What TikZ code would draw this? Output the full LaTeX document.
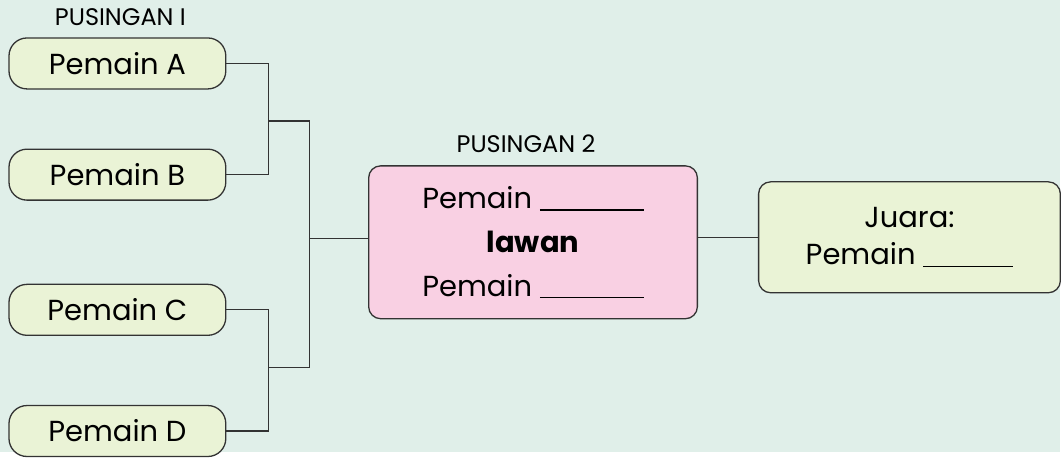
\documentclass[tikz,border=0pt]{standalone}
\usepackage{fontspec}
\setmainfont{Poppins}
\usetikzlibrary{positioning}
\definecolor{mintbg}{HTML}{E0EFE9}
\definecolor{playerfill}{HTML}{EAF3D6}
\definecolor{matchfill}{HTML}{F9D0E3}
\definecolor{edgegray}{HTML}{333333}
\newcommand{\blankline}[1]{\rule[-1.2pt]{#1}{0.7pt}}

\begin{document}
\begin{tikzpicture}[
  playerBox/.style={draw=edgegray, line width=0.65pt, fill=playerfill, minimum width=108.5pt, minimum height=25.5pt, rounded corners=9pt, inner sep=0pt, font=\fontsize{14.5}{18}\selectfont},
  matchBox/.style={draw=edgegray, line width=0.65pt, fill=matchfill, minimum width=164.5pt, minimum height=76.5pt, rounded corners=6pt, align=center, font=\fontsize{14.5}{22}\selectfont},
  winnerBox/.style={draw=edgegray, line width=0.65pt, fill=playerfill, minimum width=151pt, minimum height=55.5pt, rounded corners=6pt, align=center, font=\fontsize{14.5}{18.5}\selectfont},
  roundLabel/.style={inner sep=0pt, font=\fontsize{12}{14}\selectfont},
  link/.style={draw=edgegray, line width=0.65pt}
]
\fill[mintbg] (0,0) rectangle (530.5pt,-226pt);

% Pusingan 1
\node[playerBox] (pA) at (58.75pt,-31.75pt) {Pemain A};
\node[playerBox, below=29.5pt of pA] (pB) {Pemain B};
\node[playerBox, below=41.5pt of pB] (pC) {Pemain C};
\node[playerBox, below=34.5pt of pC] (pD) {Pemain D};
\node[roundLabel, above=5.5pt of pA, xshift=1.5pt] (lbl1) {PUSINGAN I};

% Pusingan 2 dan juara
\node[matchBox] (final) at (266.75pt,-121.25pt) {Pemain \blankline{52pt}\\\textbf{lawan}\\Pemain \blankline{52pt}};
\node[roundLabel, above=6pt of final, xshift=-3.5pt] (lbl2) {PUSINGAN 2};
\node[winnerBox, right=30pt of final, yshift=2.5pt] (champ) {Juara:\\Pemain \blankline{45pt}};

% Bracket lines
\coordinate (jAB) at (134.5pt,-60.5pt);
\coordinate (jCD) at (134.5pt,-184pt);
\coordinate (jMid) at (155pt,-119.5pt);

\draw[link] (pA.east) -| (jAB) |- (pB.east);
\draw[link] (pC.east) -| (jCD) |- (pD.east);
\draw[link] (jAB) -| (jMid) |- (jCD);
\draw[link] (jMid) -- (jMid -| final.west);
\draw[link] (final.east |- champ.west) -- (champ.west);

\end{tikzpicture}
\end{document}
